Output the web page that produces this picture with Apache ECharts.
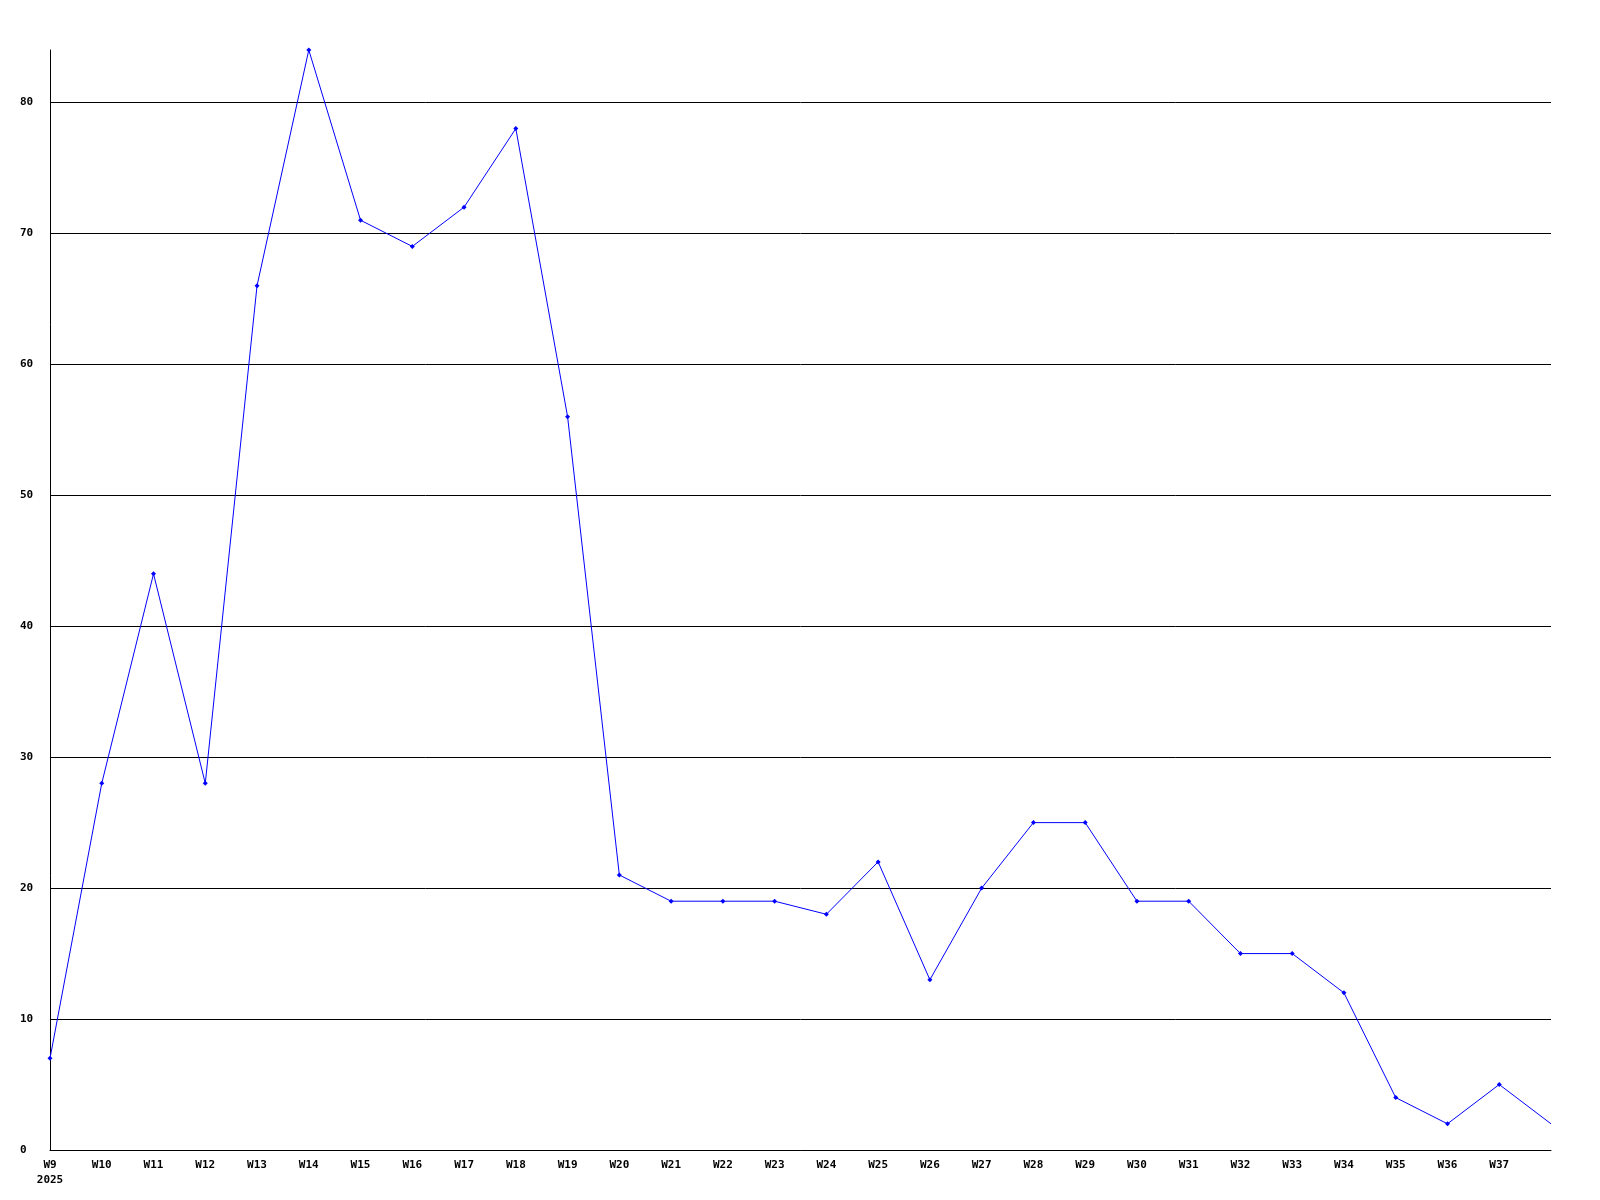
<!DOCTYPE html>
<html>
<head>
<meta charset="utf-8">
<script src="https://cdn.jsdelivr.net/npm/echarts@6/dist/echarts.min.js"></script>
<style>
html,body{margin:0;padding:0;background:#fff;}
#chart{width:1600px;height:1200px;}
</style>
</head>
<body>
<div id="chart"></div>
<script>
const categories = ['W9\n2025','W10','W11','W12','W13','W14','W15','W16','W17','W18','W19','W20','W21','W22','W23','W24','W25','W26','W27','W28','W29','W30','W31','W32','W33','W34','W35','W36','W37',''];
const values = [7,28,44,28,66,84,71,69,72,78,56,21,19,19,19,18,22,13,20,25,25,19,19,15,15,12,4,2,5,2];
const yMin = 0, yMax = 84, yStep = 10;

const font = '"DejaVu Sans Mono", "Liberation Mono", monospace';
const gridColors = [];
for (let v = yMin; v <= yMax; v += yStep) gridColors.push('#000');
gridColors.push('rgba(0,0,0,0)');

const seriesData = values.map((v, i) => i === values.length - 1 ? {value: v, symbol: 'none'} : v);

const chart = echarts.init(document.getElementById('chart'), null, {renderer:'canvas'});
chart.setOption({
  animation: false,
  backgroundColor: '#fff',
  grid: {left: 50, right: 49, top: 50, bottom: 50, containLabel: false},
  xAxis: {
    type: 'category',
    data: categories,
    boundaryGap: false,
    axisLine: {show: true, lineStyle: {color: '#000', width: 1}},
    axisTick: {show: false},
    axisLabel: {interval: 0, color: '#000', fontFamily: font, fontWeight: 'bold', fontSize: 11, margin: 8, lineHeight: 15}
  },
  yAxis: {
    type: 'value',
    min: yMin, max: yMax, interval: yStep,
    axisLine: {show: true, lineStyle: {color: '#000', width: 1}},
    axisTick: {show: false},
    axisLabel: {showMaxLabel: false, align: 'left', margin: 30, color: '#000', fontFamily: font, fontWeight: 'bold', fontSize: 11},
    splitLine: {show: true, lineStyle: {color: gridColors, width: 1}}
  },
  series: [{
    type: 'line',
    data: seriesData,
    symbol: 'diamond',
    symbolSize: 5,
    showSymbol: true,
    lineStyle: {color: '#0000ff', width: 1},
    itemStyle: {color: '#0000ff'}
  }]
});
</script>
</body>
</html>
